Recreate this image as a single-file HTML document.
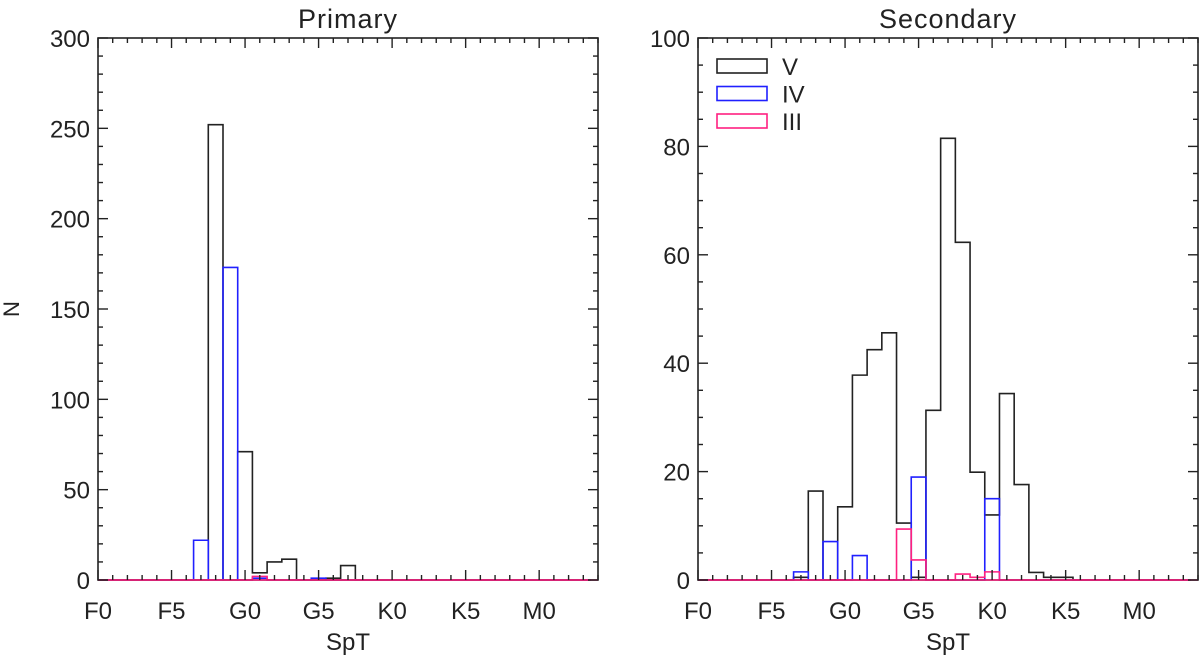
<!DOCTYPE html>
<html><head><meta charset="utf-8"><style>
html,body{margin:0;padding:0;background:#fff;}
svg text{font-family:"Liberation Sans","DejaVu Sans",sans-serif;fill:#222;}
</style></head><body>
<svg id="fig" width="1200" height="657" viewBox="0 0 1200 657" xmlns="http://www.w3.org/2000/svg"></svg>
<script>
const xTickLabels = ["F0","F5","G0","G5","K0","K5","M0"];
const primaryV   = [[8,252],[10,71],[11,4],[12,10],[13,11.5],[16,1],[17,8]];
const primaryIV  = [[7,22],[9,173],[11,1],[15,1]];
const primaryIII = [[11,2]];
const secondaryV   = [[7,0.5],[8,16.4],[10,13.5],[11,37.8],[12,42.5],[13,45.6],[14,10.5],[15,0.5],[16,31.3],[17,81.5],[18,62.3],[19,19.9],[20,12],[21,34.4],[22,17.6],[23,1.4],[24,0.5],[25,0.5]];
const secondaryIV  = [[7,1.5],[9,7.1],[11,4.5],[15,19],[20,15]];
const secondaryIII = [[14,9.4],[15,3.7],[18,1.1],[19,0.5],[20,1.5]];
const legendLabels = ["V","IV","III"];

const NS="http://www.w3.org/2000/svg";
const svg=document.getElementById('fig');
function mk(tag,attrs,parent){const e=document.createElementNS(NS,tag);for(const k in attrs)e.setAttribute(k,attrs[k]);(parent||svg).appendChild(e);return e;}

function panel(opt){
  const L=opt.left,R=opt.left+500,T=38,B=580;
  const g=mk('g',{});
  
  
  const xs=v=>L+(v)*(R-L)/34;
  const ys=v=>B-v*(B-T)/opt.ymax;
  function hist(data,color,nm){
    const dense=new Array(34).fill(0);
    data.forEach(d=>{dense[d[0]]=d[1];});
    let p='M'+xs(0)+','+ys(0);
    for(let i=0;i<34;i++){
      const x0=Math.max(0,i-0.5),x1=Math.min(34,i+0.5);
      p+=' L'+xs(x0)+','+ys(dense[i])+' L'+xs(x1)+','+ys(dense[i]);
    }
    const pa=mk('path',{d:p,fill:'none',stroke:color,'stroke-width':1.6},g);
    
    
  }
  hist(opt.V,'#222','class-v');
  hist(opt.IV,'#2020ff','class-iv');
  hist(opt.III,'#ff2080','class-iii');
  const f=mk('rect',{x:L,y:T,width:R-L,height:B-T,fill:'none',stroke:'#222','stroke-width':1.6},g);
  
  
  mk('line',{x1:L,x2:R,y1:B,y2:B,stroke:'#ff2080','stroke-width':1.6},g);
  for(let i=0;i<=34;i++){
    const len=i%5===0?10:5,x=xs(i);
    mk('line',{x1:x,x2:x,y1:B,y2:B-len,stroke:'#222','stroke-width':1.4},g);
    mk('line',{x1:x,x2:x,y1:T,y2:T+len,stroke:'#222','stroke-width':1.4},g);
  }
  xTickLabels.forEach((t,i)=>{
    const tx=mk('text',{x:xs(i*5),y:619,'text-anchor':'middle','font-size':24},g);
    tx.textContent=t;
    
    
  });
  for(let v=0;v<=opt.ymax+1e-9;v+=opt.minor){
    const maj=Math.abs(v/opt.major-Math.round(v/opt.major))<1e-6;
    const len=maj?10:5,y=ys(v);
    mk('line',{x1:L,x2:L+len,y1:y,y2:y,stroke:'#222','stroke-width':1.4},g);
    mk('line',{x1:R,x2:R-len,y1:y,y2:y,stroke:'#222','stroke-width':1.4},g);
    if(maj){
      const tx=mk('text',{x:L-8,y:y+9,'text-anchor':'end','font-size':24},g);
      tx.textContent=String(Math.round(v));
      
      
    }
  }
  const xt=mk('text',{x:(L+R)/2,y:650,'text-anchor':'middle','font-size':24},g);
  xt.textContent='SpT';
  
  
  const tt=mk('text',{x:(L+R)/2,y:28,'text-anchor':'middle','font-size':27,'letter-spacing':1},g);
  tt.textContent=opt.title;
  
  
}
panel({name:'primary-panel',left:98,ymax:300,major:50,minor:10,title:'Primary',V:primaryV,IV:primaryIV,III:primaryIII});
const yt=mk('text',{x:19,y:309,'text-anchor':'middle','font-size':22,transform:'rotate(-90 19 309)'});
yt.textContent='N';


panel({name:'secondary-panel',left:698,ymax:100,major:20,minor:5,title:'Secondary',V:secondaryV,IV:secondaryIV,III:secondaryIII});
const cols=['#222','#2020ff','#ff2080'];
legendLabels.forEach((t,i)=>{
  const y=59+i*27.5;
  const b=mk('rect',{x:717,y:y,width:50,height:14,fill:'none',stroke:cols[i],'stroke-width':1.6});
  
  
  const tx=mk('text',{x:782,y:y+16,'font-size':24});
  tx.textContent=t;
  
  
});
</script>
</body></html>
